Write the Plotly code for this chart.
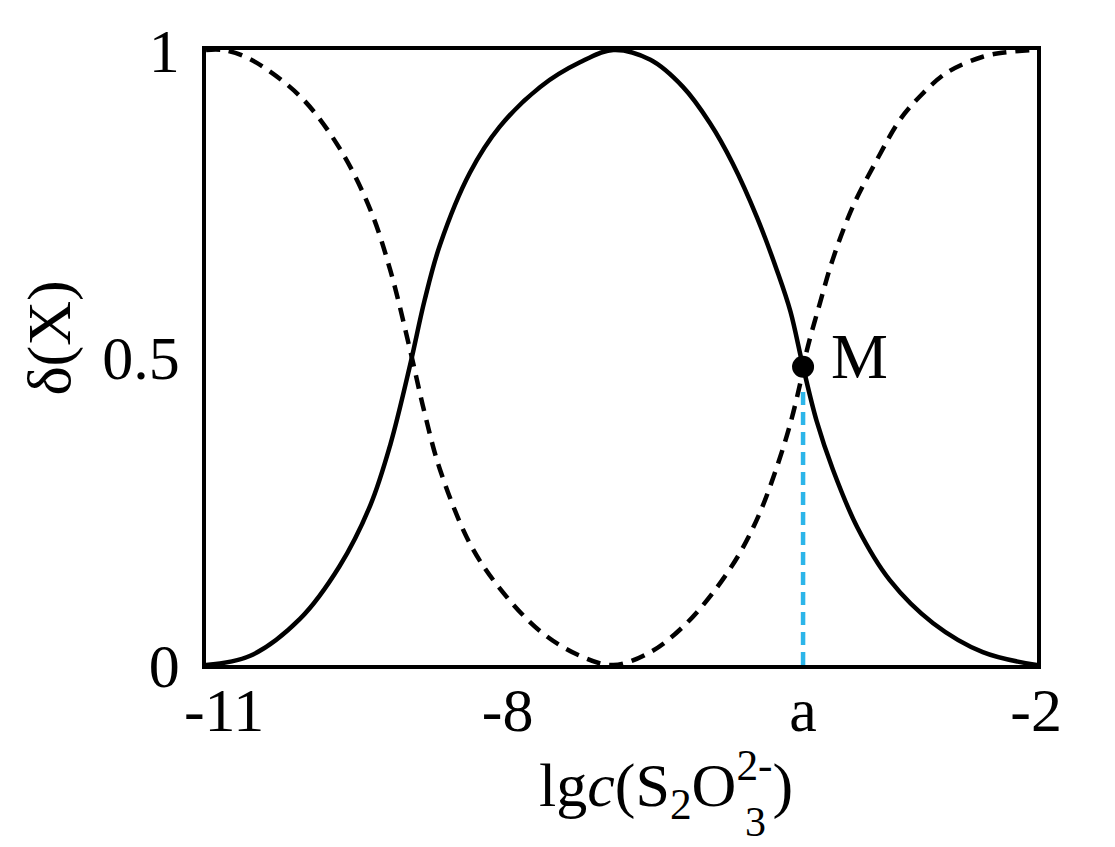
import plotly.graph_objects as go

# Solid curve
solid_x = [-11.2, -10.71, -10.16, -9.72, -9.38, -9.16, -8.94, -8.78, -8.61, -8.28, -7.95, -7.5,
           -7.06, -6.69, -6.28, -5.92, -5.62, -5.37, -5.1, -4.88, -4.73, -4.59, -4.44, -4.26,
           -3.99, -3.63, -3.15, -2.6, -2.0]
solid_y = [0, 0.015, 0.075, 0.161, 0.26, 0.358, 0.488, 0.593, 0.683, 0.80, 0.875, 0.94,
           0.98, 1.0, 0.984, 0.94, 0.881, 0.816, 0.728, 0.642, 0.575, 0.485, 0.397, 0.318,
           0.224, 0.138, 0.068, 0.021, 0]

# Dashed curve
dashed_x = [-11.2, -11.01, -10.71, -10.16, -9.72, -9.38, -9.16, -8.94, -8.78, -8.61, -8.28,
            -7.95, -7.5, -7.06, -6.69, -6.28, -5.92, -5.59, -5.29, -5.07, -4.88, -4.73,
            -4.62, -4.55, -4.4, -4.26, -4.04, -3.77, -3.52, -3.3, -3.0, -2.6, -2.3, -2.0]
dashed_y = [1.0, 1.0, 0.985, 0.925, 0.84, 0.74, 0.642, 0.512, 0.41, 0.318, 0.198,
            0.125, 0.055, 0.015, 0, 0.021, 0.062, 0.117, 0.182, 0.247, 0.322, 0.393,
            0.459, 0.51, 0.59, 0.66, 0.745, 0.822, 0.886, 0.924, 0.963, 0.989, 0.997, 1.0]

# Point M
m_x = -4.59
m_y = 0.485
m_drop_top = 0.445

# Tick labels (schematic axis)
x_tick_vals = [-11.0, -7.86, -4.59, -2.01]
x_tick_text = ["-11", "-8", "a", "-2"]
y_tick_vals = [0, 0.5, 1]
y_tick_text = ["0", "0.5", "1"]

FONT = "Liberation Serif"
FS = 62

fig = go.Figure()
fig.add_trace(go.Scatter(x=dashed_x, y=dashed_y, mode="lines",
                         line=dict(color="black", width=4.5, dash="14px,9px", shape="spline",
                                   smoothing=1.0),
                         hoverinfo="skip"))
fig.add_trace(go.Scatter(x=solid_x, y=solid_y, mode="lines",
                         line=dict(color="black", width=4.5, shape="spline", smoothing=1.0),
                         hoverinfo="skip"))
fig.add_trace(go.Scatter(x=[m_x, m_x], y=[0, m_drop_top], mode="lines",
                         line=dict(color="#2CB5E9", width=4.5, dash="13px,7px"),
                         hoverinfo="skip"))
fig.add_trace(go.Scatter(x=[m_x], y=[m_y], mode="markers",
                         marker=dict(color="black", size=22), hoverinfo="skip"))

fig.add_annotation(x=m_x, y=m_y, xref="x", yref="y", text="M", showarrow=False,
                   xanchor="left", yanchor="middle", xshift=26, yshift=10,
                   font=dict(family=FONT, size=64, color="black"))

# y-axis title
fig.add_annotation(x=-0.188, y=0.532, xref="paper", yref="paper", text="δ(X)", showarrow=False,
                   textangle=-90, xanchor="center", yanchor="middle",
                   font=dict(family=FONT, size=FS, color="black"))

# x-axis title (stacked sub/superscript on O)
fig.add_annotation(x=0.553, y=-0.195, xref="paper", yref="paper",
                   text="lg<i>c</i>(S<sub>2</sub>O<sup>2-</sup>)", showarrow=False,
                   xanchor="center", yanchor="middle",
                   font=dict(family=FONT, size=FS, color="black"))
fig.add_annotation(x=0.661, y=-0.255, xref="paper", yref="paper",
                   text="3", showarrow=False, xanchor="center", yanchor="middle",
                   font=dict(family=FONT, size=42, color="black"))

fig.update_xaxes(range=[-11.2, -2.0], showgrid=False, zeroline=False,
                 showline=True, mirror=True, linecolor="black", linewidth=3.5,
                 tickmode="array", tickvals=x_tick_vals, ticktext=x_tick_text,
                 ticks="", ticklabelstandoff=-12,
                 tickfont=dict(family=FONT, size=FS, color="black"))
fig.update_yaxes(range=[0, 1], showgrid=False, zeroline=False,
                 showline=True, mirror=True, linecolor="black", linewidth=3.5,
                 tickmode="array", tickvals=y_tick_vals, ticktext=y_tick_text,
                 ticks="", ticklabelstandoff=10,
                 tickfont=dict(family=FONT, size=FS, color="black"))

fig.update_layout(width=1115, height=847, showlegend=False,
                  margin=dict(l=206, r=78, t=50, b=182),
                  plot_bgcolor="white", paper_bgcolor="white")

fig.write_html("out.html", config={"displayModeBar": False},
               post_script="document.body.style.margin='0';")
